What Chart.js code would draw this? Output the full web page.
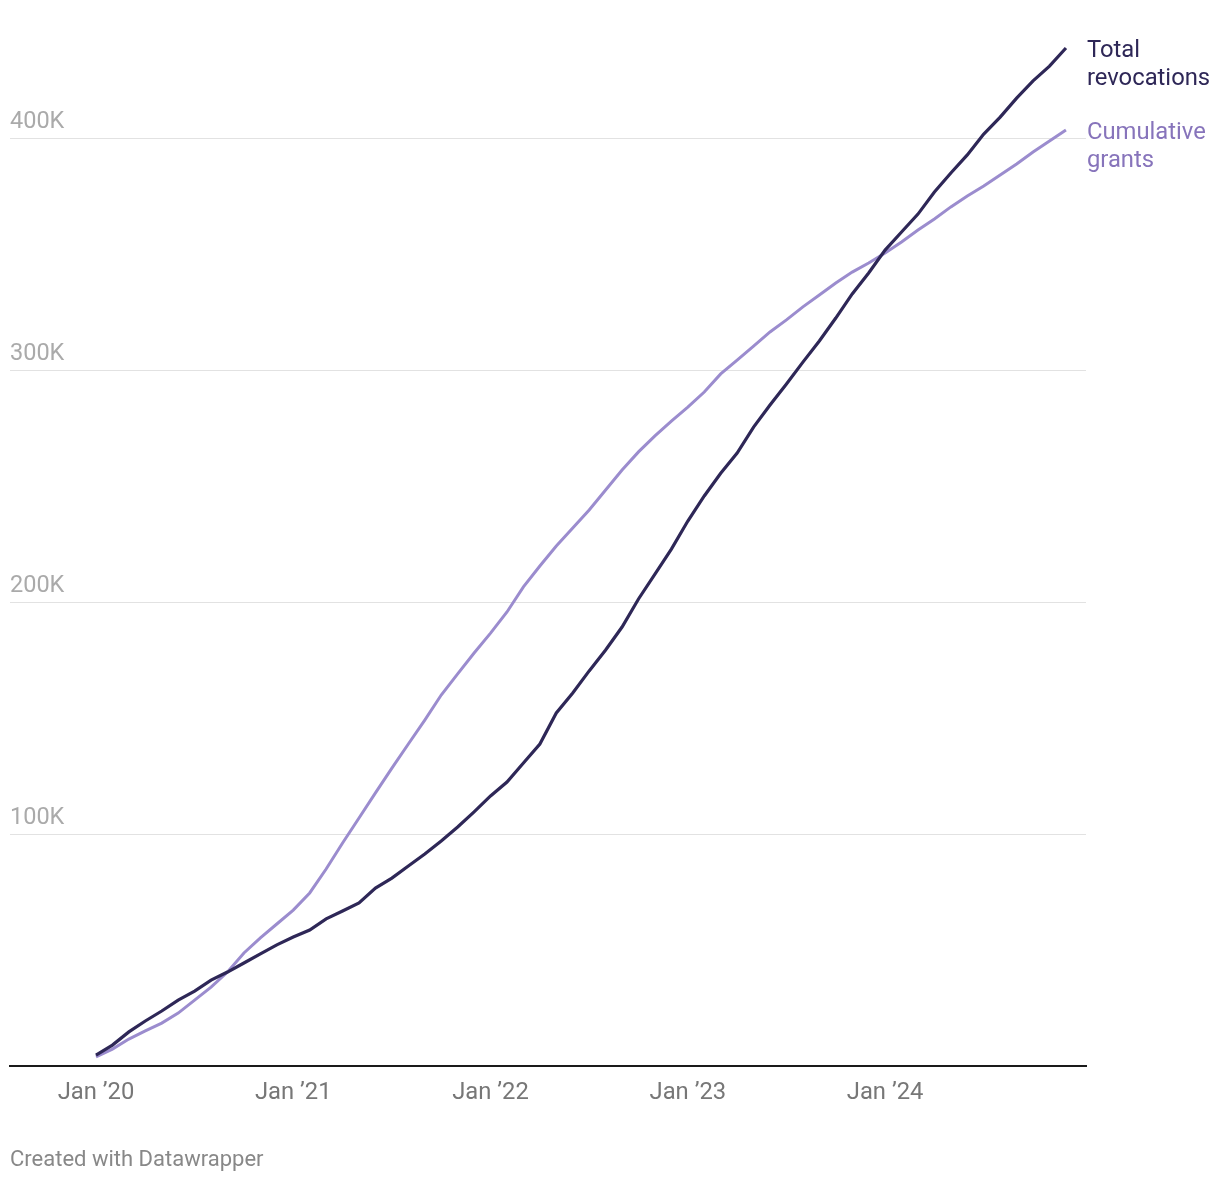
<!DOCTYPE html>
<html>
<head>
<meta charset="utf-8">
<script src="https://cdn.jsdelivr.net/npm/chart.js@4.4.1/dist/chart.umd.min.js"></script>
<style>
    html, body { margin: 0; padding: 0; background: #fff; }
    #wrap { position: relative; width: 1220px; height: 1182px; }
    #footer {
        position: absolute; left: 10px; top: 1146px;
        font: 22px Roboto, sans-serif; color: #888;
    }
</style>
</head>
<body>
<div id="wrap">
    <canvas id="revocationsChart" width="1220" height="1182"></canvas>
    <div id="footer">Created with Datawrapper</div>
</div>
<script>
// Monthly, Jan 2020 .. Dec 2024 (index 0 = Jan '20)
const months = [
    '2020-01','2020-02','2020-03','2020-04','2020-05','2020-06','2020-07','2020-08','2020-09','2020-10','2020-11','2020-12',
    '2021-01','2021-02','2021-03','2021-04','2021-05','2021-06','2021-07','2021-08','2021-09','2021-10','2021-11','2021-12',
    '2022-01','2022-02','2022-03','2022-04','2022-05','2022-06','2022-07','2022-08','2022-09','2022-10','2022-11','2022-12',
    '2023-01','2023-02','2023-03','2023-04','2023-05','2023-06','2023-07','2023-08','2023-09','2023-10','2023-11','2023-12',
    '2024-01','2024-02','2024-03','2024-04','2024-05','2024-06','2024-07','2024-08','2024-09','2024-10','2024-11','2024-12'
];

const totalRevocations = [
    4700, 9000, 14700, 19400, 23700, 28400, 32300, 37000, 40500, 44400, 48300, 52200,
    55600, 58600, 63400, 66800, 70300, 76700, 81000, 86200, 91400, 97000, 103000, 109500,
    116400, 122400, 130600, 138800, 152200, 160800, 170300, 179300, 189200, 201300, 212000, 222800,
    234900, 245700, 255500, 264200, 275400, 284900, 294000, 303400, 312500, 322400, 332800, 341800,
    351700, 359500, 367200, 376700, 384900, 392700, 401700, 409000, 417200, 424600, 431000, 438800
];

const cumulativeGrants = [
    3900, 7300, 11600, 15100, 18500, 22800, 28400, 34000, 40500, 48700, 55200, 61200,
    67200, 74600, 84900, 96100, 106900, 117700, 128400, 138800, 149100, 159900, 169000, 178000,
    186600, 195700, 206500, 215500, 224100, 231900, 239700, 248300, 256900, 264700, 271600, 278000,
    284000, 290500, 298300, 304300, 310300, 316400, 321600, 327200, 332300, 337500, 342200, 346100,
    350400, 355200, 360300, 365100, 370300, 375000, 379300, 384100, 388800, 394000, 398700, 403400
];

const xTickMonths = [0, 12, 24, 36, 48];
const xTickLabels = ['Jan \u201920', 'Jan \u201921', 'Jan \u201922', 'Jan \u201923', 'Jan \u201924'];
const yTickValues = [100000, 200000, 300000, 400000];
const yTickLabels = ['100K', '200K', '300K', '400K'];

const seriesLabels = [['Total', 'revocations'], ['Cumulative', 'grants']];
const lineColors = ['#2e2757', '#9b8cce'];
const labelColors = ['#2e2757', '#8774bb'];

function toPoints(values) {
    return values.map((v, i) => ({ x: i, y: v }));
}

// Draws the series names next to the last point of each line
const endLabels = {
    id: 'endLabels',
    afterDatasetsDraw(chart) {
        const ctx = chart.ctx;
        ctx.save();
        ctx.font = '23.8px Roboto';
        ctx.textAlign = 'left';
        ctx.textBaseline = 'middle';
        chart.data.datasets.forEach((ds, i) => {
            const meta = chart.getDatasetMeta(i);
            const last = meta.data[meta.data.length - 1];
            ctx.fillStyle = labelColors[i];
            seriesLabels[i].forEach((line, j) => {
                ctx.fillText(line, last.x + 21, last.y + 3 + j * 28);
            });
        });
        ctx.restore();
    }
};

document.addEventListener('DOMContentLoaded', function() {
    const ctx = document.getElementById('revocationsChart');

    new Chart(ctx.getContext('2d'), {
        type: 'line',
        data: {
            datasets: [{
                label: 'Total revocations',
                data: toPoints(totalRevocations),
                borderColor: lineColors[0],
                borderWidth: 3.2,
                pointRadius: 0,
                tension: 0,
                fill: false
            }, {
                label: 'Cumulative grants',
                data: toPoints(cumulativeGrants),
                borderColor: lineColors[1],
                borderWidth: 3,
                pointRadius: 0,
                tension: 0,
                fill: false
            }]
        },
        options: {
            responsive: false,
            animation: false,
            devicePixelRatio: 1,
            clip: false,
            layout: { padding: { left: 10, right: 134, top: 22, bottom: 0 } },
            plugins: {
                legend: { display: false },
                tooltip: { enabled: false }
            },
            scales: {
                x: {
                    type: 'linear',
                    min: -5.23,
                    max: 60.22,
                    grid: { display: false, drawTicks: false },
                    border: { display: true, color: '#1a1a1a', width: 2 },
                    afterBuildTicks: function(scale) {
                        scale.ticks = xTickMonths.map(v => ({ value: v }));
                    },
                    afterFit: function(scale) { scale.height = 116; },
                    ticks: {
                        autoSkip: false,
                        maxRotation: 0,
                        padding: 13,
                        color: '#777',
                        font: { family: 'Roboto', size: 23.8 },
                        callback: function(value, index) { return xTickLabels[index]; }
                    }
                },
                y: {
                    min: 0,
                    max: 450000,
                    grid: { color: '#e2e2e2', lineWidth: 1, drawTicks: false },
                    border: { display: false },
                    afterBuildTicks: function(scale) {
                        scale.ticks = yTickValues.map(v => ({ value: v }));
                    },
                    afterFit: function(scale) { scale.width = 0; },
                    ticks: {
                        mirror: true,
                        padding: 0,
                        labelOffset: -16,
                        color: '#aaa',
                        font: { family: 'Roboto', size: 23.5 },
                        callback: function(value, index) { return yTickLabels[index]; }
                    }
                }
            }
        },
        plugins: [endLabels]
    });
});
</script>
</body>
</html>
